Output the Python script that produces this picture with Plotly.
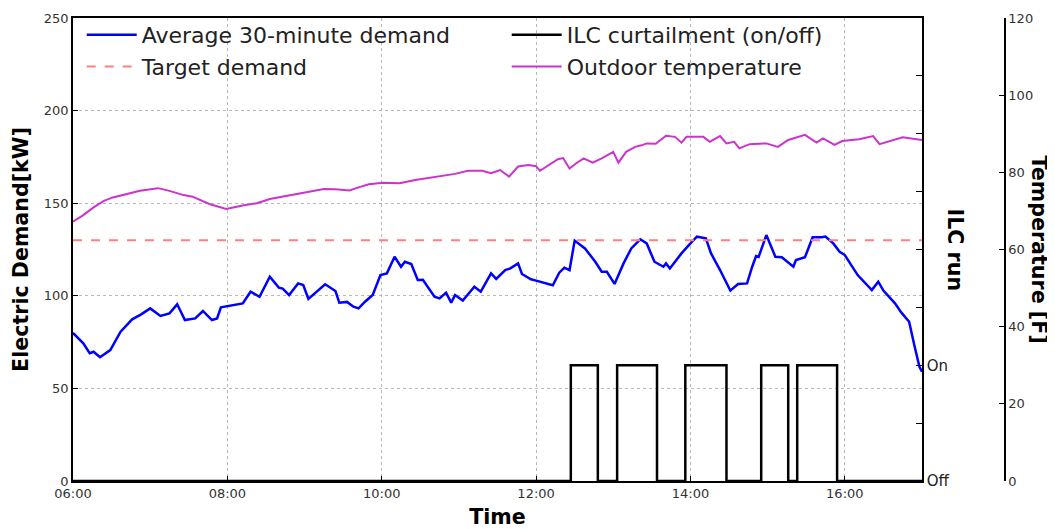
import plotly.graph_objects as go

DAY = "2017-06-01 "

# Average 30-minute demand [kW]
demand_times = ["06:00","06:08","06:13","06:16","06:21","06:29","06:37","06:46","06:53","07:00",
                "07:08","07:15","07:21","07:27","07:35","07:41","07:48","07:52","07:55","08:05",
                "08:12","08:18","08:25","08:33","08:40","08:43","08:48","08:55","08:59","09:03",
                "09:16","09:24","09:27","09:33","09:38","09:42","09:47","09:53","09:59","10:04",
                "10:10","10:15","10:18","10:23","10:28","10:32","10:41","10:45","10:50","10:54",
                "10:57","11:03","11:12","11:17","11:25","11:29","11:36","11:40","11:46","11:49",
                "11:56","12:00","12:07","12:13","12:18","12:22","12:26","12:30","12:38","12:46",
                "12:51","12:55","13:01","13:08","13:14","13:21","13:26","13:32","13:39","13:41",
                "13:44","13:53","14:00","14:05","14:12","14:16","14:23","14:31","14:37","14:44",
                "14:48","14:51","14:53","14:59","15:06","15:11","15:20","15:22","15:29","15:35",
                "15:42","15:45","15:51","15:56","16:00","16:10","16:21","16:26","16:30","16:39",
                "16:44","16:50","16:54","16:58","17:00"]
demand_kw = [80,74.3,69,69.8,66.8,70.7,80.6,87.3,90,93.2,
             89.1,90.5,95.4,86.9,87.8,91.8,86.9,87.8,93.8,95,
             95.9,102.2,99.5,110.3,104.4,103.9,100.4,106.7,105.8,98.3,
             106.2,102.6,96.3,96.7,94.1,93.2,96.8,100.4,111.2,112.1,
             121.1,115.7,118.4,117.2,108.5,108.7,99.5,98.6,101.7,96.3,
             100.4,97.4,104.9,102.2,112.1,109.1,113.9,114.8,117.5,111.8,
             108.9,108.2,106.7,105.7,112.5,115.2,113.9,129.8,125.6,118.4,
             113,113,106.4,117.5,125.6,130.5,128.3,118.4,115.7,117.5,
             114.8,122.9,128.3,131.9,131,122.9,113.9,102.8,106.4,106.7,
             115.7,121.5,121,132.8,121.1,120.8,115.7,119.3,120.8,131.6,
             131.6,132,128.3,123.8,122,111.2,103.1,107.6,102.8,95.9,
             90.9,86,73.4,61.7,59]

# Target demand [kW]
target_kw = 130

# Outdoor temperature [F]
temp_times = ["06:00","06:08","06:16","06:24","06:31","06:42","06:52","07:06","07:15","07:26",
              "07:33","07:46","07:59","08:12","08:23","08:33","08:46","08:59","09:15","09:24",
              "09:35","09:42","09:50","10:01","10:14","10:26","10:36","10:46","10:57","11:07",
              "11:18","11:25","11:32","11:39","11:46","11:54","12:00","12:03","12:09","12:17",
              "12:21","12:26","12:31","12:37","12:44","12:51","13:00","13:04","13:10","13:17",
              "13:22","13:26","13:33","13:41","13:48","13:53","13:57","14:10","14:15","14:23",
              "14:28","14:34","14:38","14:46","14:59","15:08","15:16","15:29","15:38","15:43",
              "15:52","15:58","16:11","16:22","16:27","16:37","16:45","17:00"]
temp_f = [67.2,68.9,70.9,72.6,73.5,74.4,75.2,75.9,75.2,74.1,
          73.7,71.8,70.5,71.4,72.0,73.1,73.9,74.7,75.7,75.6,
          75.3,76.1,76.9,77.3,77.2,78.0,78.5,79.0,79.6,80.4,
          80.4,79.8,80.6,78.9,81.5,81.9,81.6,80.4,81.6,83.4,
          83.7,81.0,82.3,83.6,82.5,83.6,85.3,82.5,85.3,86.6,
          87.0,87.5,87.4,89.5,89.2,87.7,89.2,89.2,87.9,89.4,
          87.5,87.9,86.2,87.3,87.5,86.6,88.4,89.7,87.7,88.8,
          87.1,88.1,88.6,89.4,87.3,88.4,89.1,88.4]

# ILC curtailment on/off (1 = On, 0 = Off)
ilc_times = ["06:00","12:27","12:48","13:03","13:34","13:56","14:28","14:55","15:16","15:23","15:54","17:00"]
ilc_state = [0,1,0,1,0,1,0,1,0,1,0,0]

x_ticks = ["06:00","08:00","10:00","12:00","14:00","16:00"]
ilc_tickvals = [0,0.5,1,1.5,2,2.5,3,3.5,4]
ilc_ticktext = ["Off","","On","","","","","",""]

FONT = "DejaVu Sans"

def ts(lst):
    return [DAY + t for t in lst]

fig = go.Figure()
fig.add_trace(go.Scatter(x=ts(demand_times), y=demand_kw, mode="lines",
                         name="Average 30-minute demand", line=dict(color="#0000ff", width=2.5),
                         yaxis="y", legendrank=1))
fig.add_trace(go.Scatter(x=ts(["06:00","17:00"]), y=[target_kw, target_kw], mode="lines",
                         name="Target demand", line=dict(color="#ff7f7f", width=2, dash="dash"),
                         yaxis="y", legendrank=3))
fig.add_trace(go.Scatter(x=ts(ilc_times), y=ilc_state, mode="lines", line_shape="hv",
                         name="ILC curtailment (on/off)", line=dict(color="black", width=2.5),
                         yaxis="y3", legendrank=2))
fig.add_trace(go.Scatter(x=ts(temp_times), y=temp_f, mode="lines",
                         name="Outdoor temperature", line=dict(color="#cc33cc", width=2),
                         yaxis="y4", legendrank=4))

# the page body adds an 8px offset; size the figure so it fills the window
W, H = 1047, 521
ml, mr, mt, mb = 65, 40, 10, 48
pw = W - ml - mr
ph = H - mt - mb
xdom_end = (914 - ml) / pw
temp_pos = (997 - ml) / pw

tick_font = dict(family=FONT, size=13, color="#333333")
title_font = dict(family=FONT, size=20.6, color="black")

fig.update_layout(
    width=W, height=H,
    margin=dict(l=ml, r=mr, t=mt, b=mb, autoexpand=False),
    paper_bgcolor="white", plot_bgcolor="white",
    font=dict(family=FONT, color="black"),
    xaxis=dict(domain=[0, xdom_end], type="date", automargin=False,
               range=[DAY + "06:00", DAY + "17:00"],
               tickvals=ts(x_ticks), ticktext=x_ticks,
               showgrid=True, gridcolor="#b8b8b8", griddash="dot", gridwidth=1,
               ticks="inside", ticklen=5, tickcolor="black",
               showline=True, linecolor="black", linewidth=1.5, mirror=True,
               tickfont=tick_font,
               title=dict(text="<b>Time</b>", font=title_font, standoff=10)),
    yaxis=dict(range=[0, 250], dtick=50, tick0=0, automargin=False,
               showgrid=True, gridcolor="#b8b8b8", griddash="dot", gridwidth=1,
               ticks="inside", ticklen=5, tickcolor="black",
               showline=True, linecolor="black", linewidth=1.5, zeroline=False,
               tickfont=tick_font,
               title=dict(text="<b>Electric Demand[kW]</b>", font=title_font, standoff=10)),
    yaxis3=dict(overlaying="y", side="right", anchor="x", range=[0, 4], automargin=False,
                tickmode="array", tickvals=ilc_tickvals, ticktext=ilc_ticktext,
                ticks="inside", ticklen=6, tickcolor="black",
                showline=True, linecolor="black", linewidth=1.5,
                showgrid=False, zeroline=False,
                tickfont=dict(family=FONT, size=15, color="#222222")),
    yaxis4=dict(overlaying="y", side="right", anchor="free", position=temp_pos, automargin=False,
                range=[0, 120], dtick=20, tick0=0,
                ticks="inside", ticklen=5, tickcolor="black",
                showline=True, linecolor="black", linewidth=1.5,
                showgrid=False, zeroline=False, tickfont=tick_font),
    legend=dict(orientation="h", x=0.005 + 4 / pw, y=1.0 + 4 / ph, xanchor="left", yanchor="top",
                entrywidth=360, entrywidthmode="pixels", itemwidth=50,
                font=dict(family=FONT, size=22, color="#222222"),
                bgcolor="rgba(0,0,0,0)", tracegroupgap=0),
    showlegend=True,
    annotations=[
        dict(text="<b>ILC run</b>", x=(947 - ml) / pw, y=0.5, xref="paper", yref="paper",
             xanchor="center", yanchor="middle",
             textangle=90, showarrow=False, font=title_font),
        dict(text="<b>Temperature [F]</b>", x=(1031 - ml) / pw, y=0.5, xref="paper", yref="paper",
             xanchor="center", yanchor="middle",
             textangle=90, showarrow=False, font=title_font),
    ],
)

fig.write_html("out.html")
